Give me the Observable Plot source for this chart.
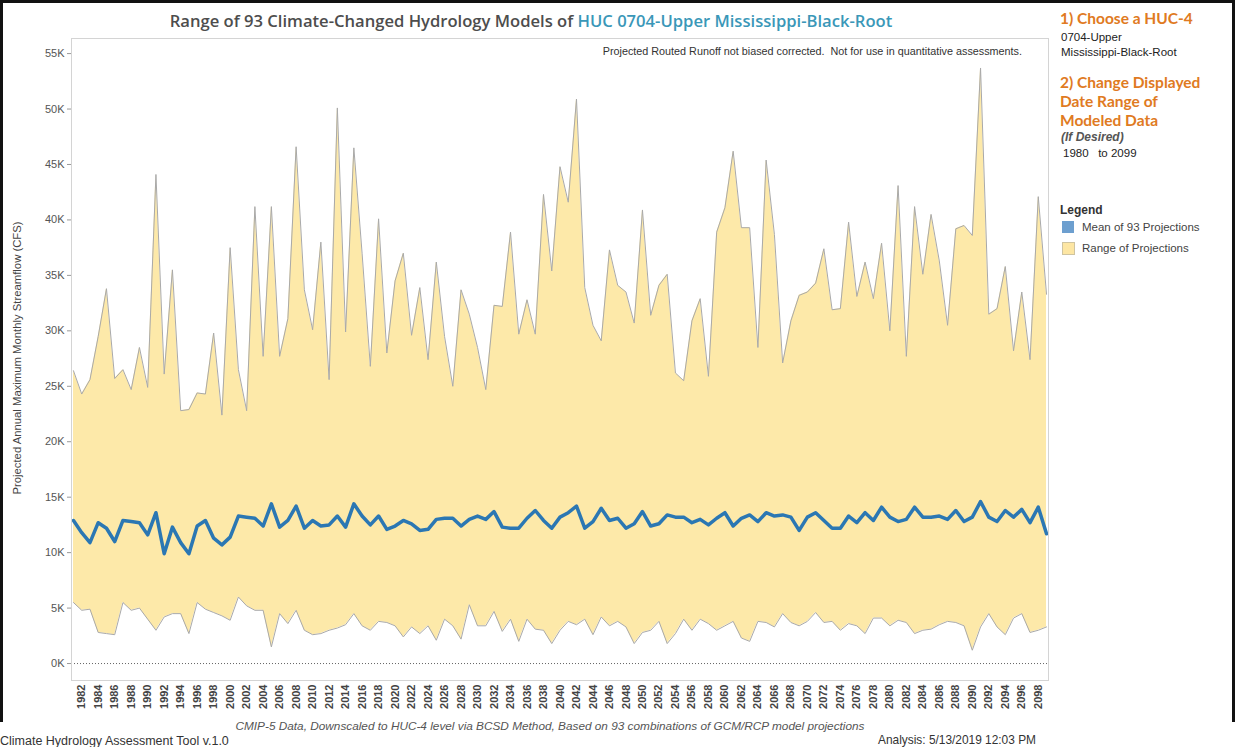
<!DOCTYPE html>
<html><head><meta charset="utf-8">
<script src="https://cdn.jsdelivr.net/npm/d3@7"></script>
<script src="https://cdn.jsdelivr.net/npm/@observablehq/plot@0.6"></script>
<style>
html,body{margin:0;padding:0;background:#fff;}
body{width:1235px;height:747px;overflow:hidden;position:relative;font-family:"Liberation Sans",Arial,sans-serif;}
#chart{position:absolute;left:0;top:0;}
.t{position:absolute;white-space:nowrap;line-height:1;}
.h{font-family:Lato,sans-serif;font-weight:700;font-size:15.5px;color:#e07a22;}
.s{font-size:11.5px;color:#222;}
</style></head><body>
<div id="chart"></div>
<div style="position:absolute;left:0;top:0;width:1235px;height:3px;background:#111"></div>
<div style="position:absolute;left:0;top:0;width:3px;height:722px;background:#111"></div>
<div style="position:absolute;left:1232px;top:0;width:3px;height:722px;background:#111"></div>

<div class="t" style="left:0;width:1062px;text-align:center;top:13px;font-family:'Open Sans',sans-serif;font-weight:600;font-size:16.6px;color:#4d4d4d">Range of 93 Climate-Changed Hydrology Models of <span style="color:#3a97b8">HUC 0704-Upper Mississippi-Black-Root</span></div>
<div class="t" style="right:213px;top:46px;font-size:10.8px;color:#333">Projected Routed Runoff not biased corrected.&nbsp; Not for use in quantitative assessments.</div>
<div class="t" style="left:18px;top:358px;font-size:11.3px;color:#444;transform:translate(-50%,-50%) rotate(-90deg);">Projected Annual Maximum Monthly Streamflow (CFS)</div>
<div class="t" style="left:0;width:1100px;text-align:center;top:721px;font-size:11.8px;font-style:italic;color:#555">CMIP-5 Data, Downscaled to HUC-4 level via BCSD Method, Based on 93 combinations of GCM/RCP model projections</div>
<div class="t" style="left:0;top:735px;font-size:12.5px;color:#333">Climate Hydrology Assessment Tool v.1.0</div>
<div class="t" style="left:878px;top:735px;font-size:11.9px;color:#333">Analysis: 5/13/2019 12:03 PM</div>

<div class="t h" style="left:1060px;top:11px">1) Choose a HUC-4</div>
<div class="t s" style="left:1061px;top:32px">0704-Upper</div>
<div class="t s" style="left:1061px;top:47px">Mississippi-Black-Root</div>
<div class="t h" style="left:1060px;top:75px">2) Change Displayed</div>
<div class="t h" style="left:1060px;top:94px">Date Range of</div>
<div class="t h" style="left:1060px;top:113px">Modeled Data</div>
<div class="t" style="left:1061px;top:131px;font-size:12px;font-weight:700;font-style:italic;color:#555">(If Desired)</div>
<div class="t s" style="left:1063px;top:148px">1980&nbsp;&nbsp; to 2099</div>

<div class="t" style="left:1060px;top:204px;font-size:12px;font-weight:700;color:#333">Legend</div>
<div style="position:absolute;left:1062px;top:221px;width:12px;height:12px;background:#6d9fcf"></div>
<div class="t" style="left:1082px;top:222px;font-size:11.5px;color:#444">Mean of 93 Projections</div>
<div style="position:absolute;left:1062px;top:242px;width:11px;height:11px;background:#fde6a3;border:1px solid #cfc4a0"></div>
<div class="t" style="left:1082px;top:243px;font-size:11.5px;color:#444">Range of Projections</div>

<script>
const years = [1981,1982,1983,1984,1985,1986,1987,1988,1989,1990,
1991,1992,1993,1994,1995,1996,1997,1998,1999,2000,
2001,2002,2003,2004,2005,2006,2007,2008,2009,2010,
2011,2012,2013,2014,2015,2016,2017,2018,2019,2020,
2021,2022,2023,2024,2025,2026,2027,2028,2029,2030,
2031,2032,2033,2034,2035,2036,2037,2038,2039,2040,
2041,2042,2043,2044,2045,2046,2047,2048,2049,2050,
2051,2052,2053,2054,2055,2056,2057,2058,2059,2060,
2061,2062,2063,2064,2065,2066,2067,2068,2069,2070,
2071,2072,2073,2074,2075,2076,2077,2078,2079,2080,
2081,2082,2083,2084,2085,2086,2087,2088,2089,2090,
2091,2092,2093,2094,2095,2096,2097,2098,2099];

const maxFlow = [26400,24300,25600,29500,33800,25700,26500,24700,28500,24900,
44100,26100,35500,22800,22900,24400,24300,29800,22400,37500,
26500,22800,41200,27700,41200,27700,31100,46600,33700,30100,
38000,25600,50100,29900,46500,37000,26800,40100,28000,34500,
37000,29600,33900,27400,36200,29500,25000,33700,31500,28500,
24700,32300,32200,38900,29700,32800,29700,42300,35400,44800,
41600,50900,33900,30500,29100,37300,34100,33500,30700,40900,
31400,34100,35100,26200,25500,30900,32900,25900,38900,41100,
46200,39300,39300,28500,45400,38700,27100,30900,33200,33500,
34300,37400,31900,32000,39800,33100,36200,32900,37900,30000,
43100,27700,41200,35100,40500,36300,30500,39200,39500,38600,
53700,31500,32000,35800,28200,33500,27400,42100,33300];

const minFlow = [5500,4800,4900,2800,2700,2600,5500,4800,5000,4000,
3000,4200,4500,4500,2700,5500,4900,4600,4300,3900,
6000,5200,4800,4800,1500,4500,3600,4800,3000,2600,
2700,3000,3200,3500,4500,3400,3000,3800,3700,3400,
2400,3300,2700,3400,2100,4000,3400,2200,5300,3400,
3400,4700,2900,4000,2000,4000,3100,3000,1800,3000,
3800,3500,4000,2600,4200,3400,3800,3300,1800,2800,
3000,3800,1800,2700,4000,3000,4000,3600,3000,3400,
3800,2300,2000,3800,3700,3300,4500,3700,3400,3800,
4600,3700,3800,3000,3600,3400,2700,4100,4100,3400,
3900,3700,2700,3000,3100,3500,3800,3700,3400,1200,
3300,4500,3300,2600,4100,4500,2800,3000,3300];

const meanFlow = [12900,11800,10900,12700,12200,11000,12900,12800,12700,11600,
13600,9900,12300,10900,9900,12400,12900,11300,10700,11400,
13300,13200,13100,12400,14400,12300,12900,14200,12200,12900,
12400,12500,13300,12300,14400,13300,12500,13300,12100,12400,
12900,12600,12000,12100,13000,13100,13100,12400,13000,13300,
13000,13700,12300,12200,12200,13100,13800,12900,12200,13200,
13600,14200,12200,12800,14000,12900,13100,12200,12600,13700,
12400,12600,13400,13200,13200,12700,13000,12500,13100,13600,
12400,13100,13400,12800,13600,13300,13400,13200,12000,13200,
13600,12900,12200,12200,13300,12700,13600,12900,14100,13200,
12800,13000,14100,13200,13200,13300,13000,13800,12800,13200,
14600,13200,12800,13800,13200,13900,12700,14100,11700];

const yTicks = [0,5000,10000,15000,20000,25000,30000,35000,40000,45000,50000,55000];
const xTicks = [1982,1984,1986,1988,1990,1992,1994,1996,1998,2000,2002,2004,2006,2008,2010,
2012,2014,2016,2018,2020,2022,2024,2026,2028,2030,2032,2034,2036,2038,2040,2042,2044,2046,2048,2050,
2052,2054,2056,2058,2060,2062,2064,2066,2068,2070,2072,2074,2076,2078,2080,2082,2084,2086,2088,2090,
2092,2094,2096,2098];

const data = years.map((yr, i) => ({year: yr, max: maxFlow[i], min: minFlow[i], mean: meanFlow[i]}));

const chart = Plot.plot({
  width: 1235, height: 747,
  marginLeft: 71, marginRight: 187, marginTop: 38, marginBottom: 67,
  style: {fontFamily: '"Liberation Sans", Arial, sans-serif', fontSize: "11px", color: "#444", background: "transparent", overflow: "visible"},
  x: {domain: [1980.76, 2099.24]},
  y: {domain: [-1530, 56360]},
  marks: [
    Plot.areaY(data, {x: "year", y1: "min", y2: "max", fill: "#fde9a9"}),
    Plot.line(data, {x: "year", y: "max", stroke: "#a9a9a9", strokeWidth: 1}),
    Plot.line(data, {x: "year", y: "min", stroke: "#a9a9a9", strokeWidth: 1}),
    Plot.ruleY([0], {stroke: "#666", strokeDasharray: "1,2"}),
    Plot.line(data, {x: "year", y: "mean", stroke: "#2b77b3", strokeWidth: 3.5, strokeLinejoin: "round"}),
    Plot.frame({stroke: "#d4d4d4"}),
    Plot.axisY({ticks: yTicks, tickFormat: d => d / 1000 + "K", tickSize: 4, tickPadding: 3, label: null, stroke: "#999", fill: "#555"}),
    Plot.axisX({ticks: xTicks, tickFormat: d => String(d), tickRotate: -90, tickSize: 0, tickPadding: 4, label: null, fill: "#444", fontSize: 11, fontWeight: "bold"})
  ]
});
document.getElementById("chart").appendChild(chart);
</script>
</body></html>
